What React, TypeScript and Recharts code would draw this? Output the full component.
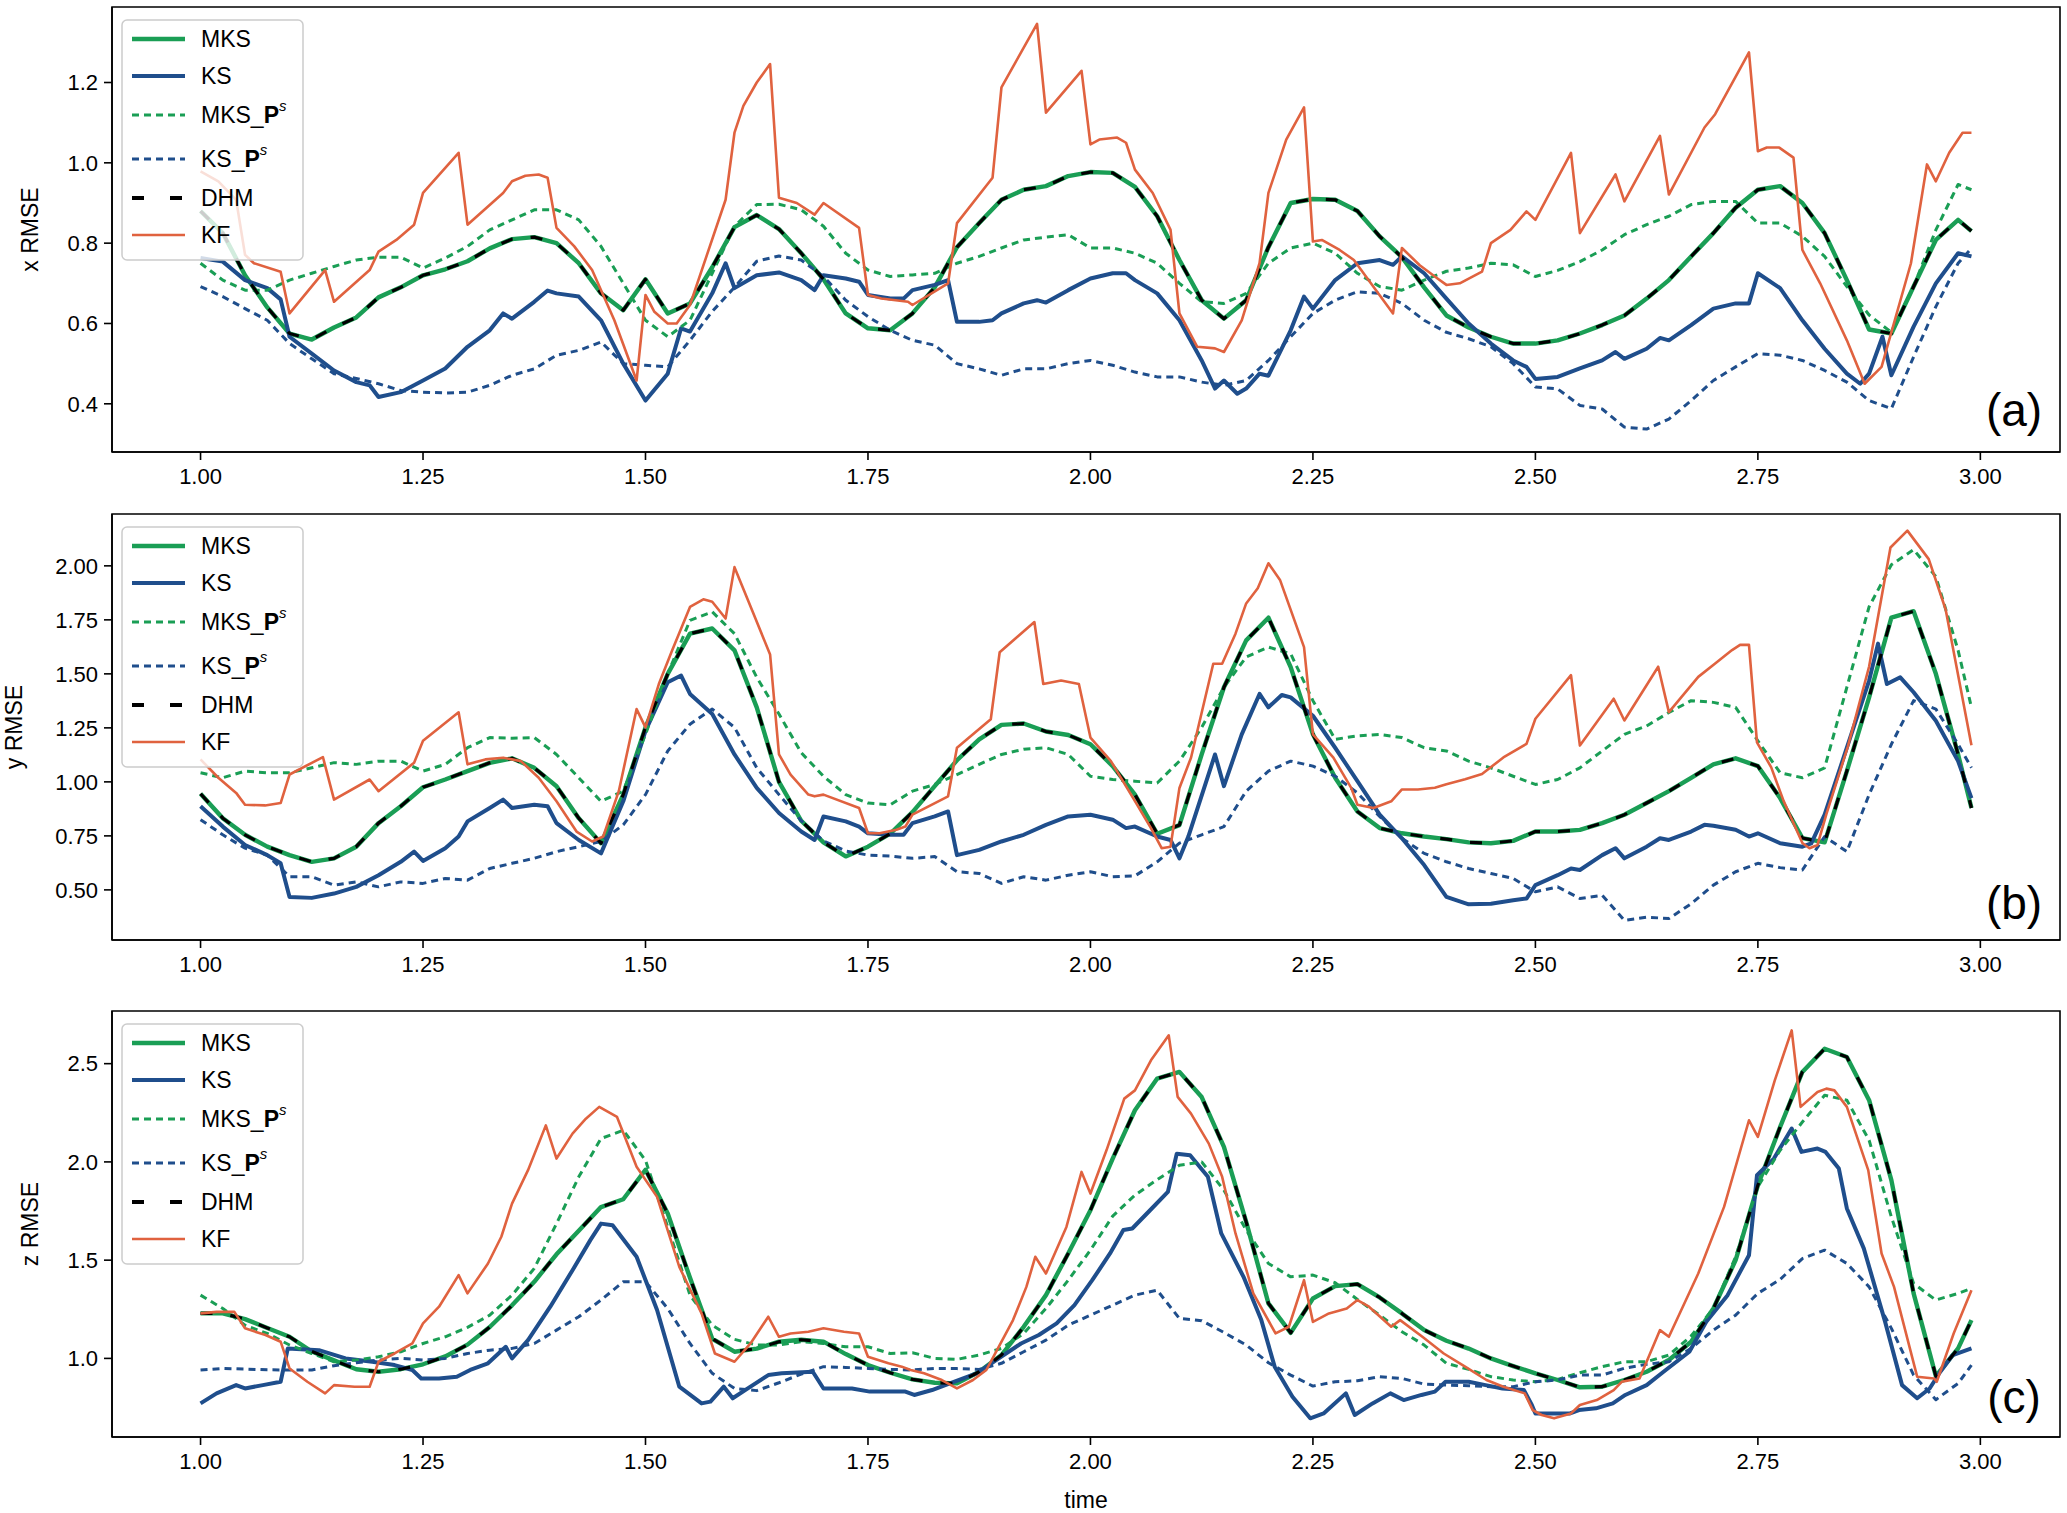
import React from 'react';
import { LineChart, Line, XAxis, YAxis, ReferenceArea } from 'recharts';

const FONT = '"Liberation Sans", Arial, sans-serif';
const GREEN = '#1a9e55';
const BLUE = '#1f4e8c';
const ORANGE = '#e0623f';
const BLACK = '#000000';

// shared time grid (smooth series)
const TIME = [
  1.0, 1.025, 1.05, 1.075, 1.1, 1.125, 1.15, 1.175, 1.2, 1.225,
  1.25, 1.275, 1.3, 1.325, 1.35, 1.375, 1.4, 1.425, 1.45, 1.475,
  1.5, 1.525, 1.55, 1.575, 1.6, 1.625, 1.65, 1.675, 1.7, 1.725,
  1.75, 1.775, 1.8, 1.825, 1.85, 1.875, 1.9, 1.925, 1.95, 1.975,
  2.0, 2.025, 2.05, 2.075, 2.1, 2.125, 2.15, 2.175, 2.2, 2.225,
  2.25, 2.275, 2.3, 2.325, 2.35, 2.375, 2.4, 2.425, 2.45, 2.475,
  2.5, 2.525, 2.55, 2.575, 2.6, 2.625, 2.65, 2.675, 2.7, 2.725,
  2.75, 2.775, 2.8, 2.825, 2.85, 2.875, 2.9, 2.925, 2.95, 2.975,
  2.99,
];

const X_TICKS = [1, 1.25, 1.5, 1.75, 2, 2.25, 2.5, 2.75, 3];
const Y_TICKS_A = [0.4, 0.6, 0.8, 1.0, 1.2];
const Y_TICKS_B = [0.5, 0.75, 1.0, 1.25, 1.5, 1.75, 2.0];
const Y_TICKS_C = [1.0, 1.5, 2.0, 2.5];

// ---------------- panel (a): x RMSE ----------------
const MKS_A = [
  0.88, 0.825, 0.72, 0.64, 0.575, 0.56, 0.59, 0.615, 0.665, 0.69,
  0.72, 0.735, 0.755, 0.787, 0.81, 0.815, 0.8, 0.75, 0.675, 0.633,
  0.71, 0.625, 0.65, 0.74, 0.84, 0.87, 0.835, 0.775, 0.71, 0.625,
  0.588, 0.583, 0.625, 0.69, 0.79, 0.85, 0.908, 0.933, 0.942, 0.967,
  0.977, 0.975, 0.94, 0.867, 0.758, 0.658, 0.612, 0.658, 0.79, 0.9,
  0.91, 0.908, 0.88, 0.817, 0.765, 0.69, 0.62, 0.59, 0.567, 0.55,
  0.55, 0.558, 0.575, 0.596, 0.62, 0.662, 0.708, 0.767, 0.825, 0.888,
  0.933, 0.942, 0.9, 0.825, 0.708, 0.585, 0.575, 0.692, 0.808, 0.858,
  0.83,
];
const DHM_A = MKS_A; // DHM lies exactly on MKS in the figure
const MKS_PS_A = [
  0.75, 0.708, 0.683, 0.683, 0.708, 0.725, 0.742, 0.758, 0.765, 0.765,
  0.738, 0.763, 0.792, 0.833, 0.858, 0.883, 0.883, 0.858, 0.792, 0.7,
  0.608, 0.567, 0.608, 0.725, 0.842, 0.896, 0.897, 0.883, 0.842, 0.775,
  0.733, 0.717, 0.721, 0.725, 0.75, 0.767, 0.788, 0.808, 0.815, 0.821,
  0.788, 0.788, 0.775, 0.75, 0.7, 0.654, 0.65, 0.675, 0.75, 0.788,
  0.8, 0.775, 0.725, 0.692, 0.683, 0.708, 0.73, 0.738, 0.75, 0.746,
  0.717, 0.732, 0.754, 0.783, 0.821, 0.846, 0.867, 0.896, 0.904, 0.904,
  0.85, 0.85, 0.817, 0.767, 0.692, 0.621, 0.578, 0.692, 0.833, 0.946,
  0.933,
];
const KS_PS_A = [
  0.692, 0.667, 0.637, 0.608, 0.55, 0.512, 0.475, 0.463, 0.45, 0.433,
  0.429, 0.427, 0.429, 0.446, 0.471, 0.487, 0.521, 0.533, 0.554, 0.5,
  0.496, 0.492, 0.558, 0.63, 0.69, 0.755, 0.768, 0.758, 0.717, 0.658,
  0.617, 0.583, 0.558, 0.546, 0.5, 0.487, 0.471, 0.487, 0.487, 0.5,
  0.508, 0.496, 0.479, 0.467, 0.467, 0.454, 0.446, 0.458, 0.508, 0.567,
  0.625, 0.658, 0.679, 0.675, 0.65, 0.608, 0.578, 0.562, 0.542, 0.5,
  0.442, 0.437, 0.396, 0.387, 0.342, 0.337, 0.362, 0.408, 0.458, 0.492,
  0.525, 0.521, 0.508, 0.483, 0.454, 0.408, 0.388, 0.517, 0.642, 0.75,
  0.787,
];
const KS_A = [
  [1.0, 0.763], [1.025, 0.754], [1.05, 0.708], [1.075, 0.688], [1.09, 0.66], [1.1, 0.567],
  [1.125, 0.525], [1.15, 0.483], [1.175, 0.454], [1.19, 0.446], [1.2, 0.417], [1.225, 0.429],
  [1.25, 0.458], [1.275, 0.488], [1.3, 0.542], [1.325, 0.583], [1.34, 0.625], [1.35, 0.612],
  [1.375, 0.654], [1.39, 0.682], [1.4, 0.675], [1.425, 0.667], [1.45, 0.608], [1.475, 0.5],
  [1.5, 0.408], [1.525, 0.475], [1.54, 0.588], [1.55, 0.58], [1.575, 0.675], [1.59, 0.75],
  [1.6, 0.688], [1.625, 0.72], [1.65, 0.727], [1.675, 0.708], [1.69, 0.683], [1.7, 0.72],
  [1.725, 0.712], [1.74, 0.704], [1.75, 0.671], [1.775, 0.662], [1.79, 0.662], [1.8, 0.683],
  [1.825, 0.696], [1.84, 0.708], [1.85, 0.604], [1.875, 0.604], [1.89, 0.608], [1.9, 0.625],
  [1.925, 0.65], [1.94, 0.658], [1.95, 0.652], [1.975, 0.683], [2.0, 0.712], [2.025, 0.725],
  [2.04, 0.725], [2.05, 0.708], [2.075, 0.675], [2.1, 0.608], [2.125, 0.508], [2.14, 0.438],
  [2.15, 0.458], [2.165, 0.425], [2.175, 0.438], [2.19, 0.475], [2.2, 0.47], [2.225, 0.583],
  [2.24, 0.667], [2.25, 0.637], [2.275, 0.708], [2.3, 0.75], [2.325, 0.758], [2.34, 0.746],
  [2.35, 0.767], [2.375, 0.725], [2.4, 0.662], [2.425, 0.6], [2.45, 0.55], [2.475, 0.508],
  [2.49, 0.492], [2.5, 0.462], [2.525, 0.467], [2.55, 0.488], [2.575, 0.508], [2.59, 0.529],
  [2.6, 0.512], [2.625, 0.537], [2.64, 0.564], [2.65, 0.558], [2.675, 0.596], [2.7, 0.637],
  [2.725, 0.65], [2.74, 0.65], [2.75, 0.725], [2.775, 0.688], [2.8, 0.608], [2.825, 0.537],
  [2.85, 0.475], [2.865, 0.45], [2.875, 0.475], [2.89, 0.567], [2.9, 0.471], [2.925, 0.592],
  [2.95, 0.7], [2.975, 0.775], [2.99, 0.767],
];
const KF_A = [
  [1.0, 0.979], [1.02, 0.954], [1.04, 0.908], [1.05, 0.771], [1.06, 0.75], [1.09, 0.729],
  [1.1, 0.625], [1.14, 0.733], [1.15, 0.654], [1.19, 0.733], [1.2, 0.779], [1.22, 0.808],
  [1.24, 0.846], [1.25, 0.925], [1.29, 1.025], [1.3, 0.846], [1.34, 0.925], [1.35, 0.954],
  [1.365, 0.968], [1.38, 0.971], [1.39, 0.963], [1.4, 0.838], [1.42, 0.792], [1.44, 0.733],
  [1.465, 0.608], [1.49, 0.458], [1.5, 0.671], [1.51, 0.629], [1.525, 0.6], [1.535, 0.6],
  [1.55, 0.646], [1.59, 0.908], [1.6, 1.075], [1.61, 1.142], [1.625, 1.2], [1.64, 1.246],
  [1.65, 0.913], [1.67, 0.9], [1.69, 0.871], [1.7, 0.9], [1.74, 0.838], [1.75, 0.671],
  [1.765, 0.662], [1.795, 0.654], [1.8, 0.646], [1.84, 0.7], [1.85, 0.85], [1.89, 0.963],
  [1.9, 1.188], [1.94, 1.346], [1.95, 1.125], [1.99, 1.229], [2.0, 1.046], [2.01, 1.058],
  [2.03, 1.063], [2.04, 1.05], [2.05, 0.983], [2.07, 0.925], [2.09, 0.833], [2.1, 0.625],
  [2.12, 0.542], [2.14, 0.538], [2.15, 0.529], [2.17, 0.608], [2.19, 0.75], [2.2, 0.925],
  [2.22, 1.058], [2.24, 1.138], [2.25, 0.804], [2.26, 0.808], [2.28, 0.783], [2.296, 0.758],
  [2.34, 0.625], [2.35, 0.788], [2.37, 0.745], [2.39, 0.712], [2.4, 0.696], [2.415, 0.7],
  [2.44, 0.729], [2.45, 0.8], [2.472, 0.833], [2.49, 0.879], [2.5, 0.858], [2.54, 1.025],
  [2.55, 0.825], [2.59, 0.971], [2.6, 0.904], [2.64, 1.067], [2.65, 0.921], [2.69, 1.088],
  [2.702, 1.121], [2.74, 1.275], [2.75, 1.029], [2.76, 1.038], [2.774, 1.038], [2.79, 1.013],
  [2.8, 0.783], [2.82, 0.7], [2.85, 0.558], [2.87, 0.45], [2.889, 0.492], [2.922, 0.75],
  [2.94, 0.996], [2.95, 0.954], [2.965, 1.025], [2.98, 1.075], [2.99, 1.075],
];

// ---------------- panel (b): y RMSE ----------------
const MKS_B = [
  0.945, 0.832, 0.755, 0.7, 0.661, 0.63, 0.646, 0.7, 0.809, 0.887,
  0.975, 1.011, 1.05, 1.088, 1.109, 1.065, 0.98, 0.832, 0.716, 0.941,
  1.252, 1.5, 1.686, 1.71, 1.609, 1.345, 1.0, 0.82, 0.72, 0.655,
  0.7, 0.76, 0.86, 0.98, 1.1, 1.197, 1.264, 1.27, 1.233, 1.217,
  1.174, 1.073, 0.941, 0.76, 0.8, 1.127, 1.438, 1.655, 1.76, 1.531,
  1.22, 1.019, 0.863, 0.786, 0.762, 0.747, 0.735, 0.72, 0.716, 0.727,
  0.77, 0.77, 0.778, 0.809, 0.848, 0.902, 0.957, 1.019, 1.081, 1.109,
  1.073, 0.925, 0.74, 0.72, 1.05, 1.391, 1.76, 1.79, 1.5, 1.127,
  0.879,
];
const DHM_B = MKS_B;
const MKS_PS_B = [
  1.042, 1.019, 1.05, 1.042, 1.042, 1.065, 1.089, 1.081, 1.096, 1.096,
  1.05, 1.081, 1.158, 1.205, 1.202, 1.205, 1.127, 1.019, 0.91, 0.957,
  1.22, 1.5, 1.748, 1.787, 1.686, 1.484, 1.314, 1.135, 1.026, 0.941,
  0.902, 0.894, 0.957, 0.988, 1.034, 1.081, 1.127, 1.151, 1.158, 1.127,
  1.026, 1.011, 1.003, 0.995, 1.096, 1.252, 1.438, 1.578, 1.624, 1.593,
  1.376, 1.197, 1.213, 1.22, 1.205, 1.158, 1.143, 1.096, 1.065, 1.026,
  0.988, 1.011, 1.065, 1.143, 1.22, 1.259, 1.321, 1.376, 1.368, 1.345,
  1.19, 1.042, 1.019, 1.065, 1.438, 1.811, 2.005, 2.075, 1.95, 1.609,
  1.345,
];
const KS_PS_B = [
  0.825, 0.755, 0.693, 0.661, 0.561, 0.561, 0.522, 0.537, 0.514, 0.537,
  0.53, 0.553, 0.545, 0.599, 0.623, 0.646, 0.677, 0.7, 0.724, 0.801,
  0.941, 1.143, 1.267, 1.337, 1.252, 1.065, 0.941, 0.82, 0.727, 0.68,
  0.661, 0.657, 0.646, 0.654, 0.584, 0.576, 0.53, 0.561, 0.545, 0.568,
  0.584, 0.561, 0.565, 0.63, 0.716, 0.755, 0.793, 0.957, 1.05, 1.096,
  1.073, 1.026, 0.949, 0.84, 0.739, 0.669, 0.63, 0.599, 0.576, 0.553,
  0.491, 0.514, 0.46, 0.475, 0.359, 0.374, 0.367, 0.436, 0.522, 0.584,
  0.623, 0.603, 0.592, 0.747, 0.677, 0.941, 1.174, 1.376, 1.337, 1.174,
  1.065,
];
const KS_B = [
  [1.0, 0.887], [1.025, 0.793], [1.05, 0.708], [1.075, 0.661], [1.09, 0.623], [1.1, 0.467],
  [1.125, 0.463], [1.15, 0.483], [1.175, 0.514], [1.2, 0.568], [1.225, 0.63], [1.24, 0.677],
  [1.25, 0.634], [1.275, 0.693], [1.29, 0.747], [1.3, 0.817], [1.325, 0.879], [1.34, 0.918],
  [1.35, 0.879], [1.375, 0.894], [1.39, 0.887], [1.4, 0.809], [1.425, 0.731], [1.45, 0.669],
  [1.475, 0.91], [1.5, 1.236], [1.525, 1.461], [1.54, 1.492], [1.55, 1.407], [1.575, 1.314],
  [1.6, 1.127], [1.625, 0.972], [1.65, 0.856], [1.675, 0.77], [1.69, 0.731], [1.7, 0.84],
  [1.725, 0.817], [1.74, 0.793], [1.75, 0.762], [1.775, 0.755], [1.79, 0.755], [1.8, 0.809],
  [1.825, 0.84], [1.84, 0.863], [1.85, 0.661], [1.875, 0.685], [1.9, 0.724], [1.925, 0.755],
  [1.95, 0.801], [1.975, 0.84], [2.0, 0.848], [2.025, 0.825], [2.04, 0.786], [2.05, 0.793],
  [2.075, 0.747], [2.09, 0.731], [2.1, 0.646], [2.11, 0.747], [2.14, 1.127], [2.15, 0.98],
  [2.17, 1.22], [2.19, 1.407], [2.2, 1.345], [2.215, 1.402], [2.225, 1.391], [2.25, 1.306],
  [2.275, 1.158], [2.3, 1.003], [2.325, 0.848], [2.35, 0.739], [2.375, 0.615], [2.4, 0.468],
  [2.425, 0.433], [2.45, 0.436], [2.475, 0.452], [2.49, 0.46], [2.5, 0.522], [2.525, 0.568],
  [2.54, 0.599], [2.55, 0.592], [2.575, 0.661], [2.59, 0.693], [2.6, 0.646], [2.625, 0.7],
  [2.64, 0.739], [2.65, 0.731], [2.675, 0.77], [2.69, 0.801], [2.7, 0.797], [2.725, 0.778],
  [2.74, 0.747], [2.75, 0.762], [2.775, 0.716], [2.8, 0.7], [2.81, 0.715], [2.825, 0.848],
  [2.85, 1.158], [2.875, 1.469], [2.885, 1.64], [2.895, 1.453], [2.91, 1.484], [2.925, 1.415],
  [2.95, 1.283], [2.975, 1.096], [2.99, 0.925],
];
const KF_B = [
  [1.0, 1.104], [1.02, 1.019], [1.04, 0.949], [1.05, 0.894], [1.0725, 0.891], [1.09, 0.902],
  [1.1, 1.034], [1.1375, 1.115], [1.15, 0.918], [1.19, 1.011], [1.2, 0.957], [1.24, 1.089],
  [1.25, 1.19], [1.29, 1.322], [1.3, 1.081], [1.32, 1.104], [1.34, 1.112], [1.36, 1.096],
  [1.38, 1.019], [1.4, 0.91], [1.4225, 0.77], [1.44, 0.724], [1.4525, 0.747], [1.47, 0.957],
  [1.49, 1.337], [1.5, 1.252], [1.515, 1.453], [1.53, 1.609], [1.55, 1.81], [1.565, 1.845],
  [1.575, 1.834], [1.59, 1.756], [1.6, 1.994], [1.62, 1.792], [1.64, 1.59], [1.65, 1.127],
  [1.663, 1.034], [1.683, 0.941], [1.69, 0.933], [1.7, 0.941], [1.74, 0.879], [1.75, 0.762],
  [1.763, 0.762], [1.782, 0.778], [1.792, 0.793], [1.8, 0.848], [1.84, 0.933], [1.85, 1.158],
  [1.888, 1.29], [1.898, 1.6], [1.937, 1.74], [1.947, 1.453], [1.967, 1.469], [1.987, 1.453],
  [2.0, 1.205], [2.023, 1.096], [2.048, 0.925], [2.068, 0.786], [2.08, 0.693], [2.09, 0.7],
  [2.1, 0.972], [2.113, 1.112], [2.138, 1.547], [2.148, 1.547], [2.163, 1.686], [2.175, 1.826],
  [2.188, 1.896], [2.2, 2.012], [2.213, 1.935], [2.24, 1.624], [2.25, 1.22], [2.273, 1.112],
  [2.293, 0.972], [2.3, 0.894], [2.318, 0.879], [2.338, 0.91], [2.35, 0.965], [2.368, 0.965],
  [2.387, 0.973], [2.4, 0.989], [2.421, 1.012], [2.44, 1.036], [2.464, 1.113], [2.49, 1.176],
  [2.5, 1.292], [2.54, 1.494], [2.55, 1.168], [2.588, 1.385], [2.6, 1.284], [2.638, 1.533],
  [2.65, 1.323], [2.683, 1.486], [2.702, 1.548], [2.721, 1.61], [2.73, 1.634], [2.74, 1.634],
  [2.749, 1.183], [2.765, 1.067], [2.779, 0.911], [2.8, 0.717], [2.808, 0.693], [2.817, 0.708],
  [2.827, 0.851], [2.851, 1.162], [2.875, 1.534], [2.899, 2.085], [2.918, 2.163], [2.942, 2.031],
  [2.961, 1.798], [2.99, 1.169],
];

// ---------------- panel (c): z RMSE ----------------
const MKS_C = [
  1.229, 1.229, 1.2, 1.155, 1.11, 1.035, 0.99, 0.945, 0.932, 0.945,
  0.97, 1.01, 1.07, 1.16, 1.27, 1.39, 1.53, 1.65, 1.77, 1.81,
  1.96, 1.737, 1.41, 1.1, 1.034, 1.05, 1.085, 1.095, 1.085, 1.022,
  0.966, 0.927, 0.893, 0.876, 0.873, 0.932, 1.017, 1.161, 1.322, 1.534,
  1.754, 2.017, 2.263, 2.424, 2.458, 2.33, 2.076, 1.695, 1.28, 1.13,
  1.305, 1.368, 1.378, 1.31, 1.229, 1.144, 1.09, 1.05, 1.0, 0.961,
  0.924, 0.89, 0.853, 0.856, 0.89, 0.932, 0.992, 1.085, 1.254, 1.5,
  1.881, 2.178, 2.458, 2.576, 2.534, 2.314, 1.907, 1.331, 0.91, 1.051,
  1.195,
];
const DHM_C = MKS_C;
const MKS_PS_C = [
  1.322, 1.254, 1.169, 1.127, 1.068, 1.025, 0.983, 0.992, 1.008, 1.034,
  1.076, 1.11, 1.158, 1.22, 1.322, 1.458, 1.686, 1.924, 2.119, 2.161,
  2.008, 1.669, 1.322, 1.169, 1.097, 1.068, 1.068, 1.085, 1.076, 1.059,
  1.059, 1.025, 1.029, 1.0, 0.995, 1.017, 1.051, 1.127, 1.254, 1.398,
  1.551, 1.724, 1.831, 1.91, 1.983, 2.0, 1.856, 1.653, 1.483, 1.415,
  1.424, 1.385, 1.3, 1.22, 1.136, 1.068, 0.975, 0.944, 0.907, 0.89,
  0.881, 0.893, 0.927, 0.958, 0.983, 0.983, 1.017, 1.114, 1.254, 1.517,
  1.873, 2.059, 2.203, 2.339, 2.314, 2.11, 1.72, 1.381, 1.297, 1.331,
  1.356,
];
const KS_PS_C = [
  0.941, 0.949, 0.946, 0.942, 0.941, 0.941, 0.963, 0.978, 0.992, 1.0,
  0.992, 1.0, 1.025, 1.042, 1.051, 1.076, 1.144, 1.212, 1.297, 1.39,
  1.39, 1.254, 1.076, 0.924, 0.847, 0.836, 0.876, 0.92, 0.958, 0.954,
  0.949, 0.944, 0.941, 0.949, 0.948, 0.944, 0.975, 1.034, 1.093, 1.169,
  1.22, 1.271, 1.322, 1.347, 1.203, 1.192, 1.132, 1.068, 0.978, 0.915,
  0.859, 0.881, 0.886, 0.907, 0.898, 0.869, 0.864, 0.861, 0.856, 0.856,
  0.881, 0.89, 0.915, 0.915, 0.95, 0.97, 0.983, 1.051, 1.144, 1.22,
  1.331, 1.402, 1.508, 1.551, 1.483, 1.364, 1.153, 0.915, 0.79, 0.873,
  0.966,
];
const KS_C = [
  [1.0, 0.771], [1.018, 0.822], [1.04, 0.864], [1.05, 0.847], [1.07, 0.864], [1.09, 0.881],
  [1.098, 1.05], [1.133, 1.042], [1.163, 1.0], [1.193, 0.983], [1.218, 0.966], [1.238, 0.941],
  [1.248, 0.898], [1.268, 0.898], [1.288, 0.907], [1.303, 0.941], [1.323, 0.975], [1.343, 1.059],
  [1.35, 1.0], [1.368, 1.093], [1.393, 1.263], [1.418, 1.449], [1.438, 1.602], [1.45, 1.686],
  [1.463, 1.678], [1.49, 1.517], [1.513, 1.246], [1.538, 0.856], [1.563, 0.771], [1.573, 0.78],
  [1.588, 0.856], [1.598, 0.797], [1.618, 0.856], [1.638, 0.915], [1.653, 0.924], [1.688, 0.932],
  [1.7, 0.847], [1.732, 0.847], [1.752, 0.831], [1.792, 0.831], [1.802, 0.814], [1.822, 0.839],
  [1.842, 0.873], [1.872, 0.924], [1.897, 1.0], [1.922, 1.076], [1.942, 1.119], [1.962, 1.178],
  [1.982, 1.271], [2.002, 1.398], [2.022, 1.534], [2.037, 1.653], [2.047, 1.661], [2.067, 1.754],
  [2.087, 1.847], [2.097, 2.042], [2.112, 2.034], [2.132, 1.924], [2.147, 1.636], [2.172, 1.415],
  [2.192, 1.195], [2.207, 0.958], [2.227, 0.805], [2.247, 0.695], [2.262, 0.72], [2.287, 0.822],
  [2.297, 0.712], [2.317, 0.771], [2.337, 0.822], [2.352, 0.788], [2.372, 0.814], [2.387, 0.831],
  [2.399, 0.881], [2.425, 0.881], [2.444, 0.864], [2.463, 0.847], [2.487, 0.839], [2.496, 0.763],
  [2.5, 0.72], [2.539, 0.72], [2.549, 0.737], [2.568, 0.746], [2.587, 0.771], [2.601, 0.814],
  [2.625, 0.864], [2.644, 0.932], [2.673, 1.034], [2.692, 1.186], [2.716, 1.322], [2.74, 1.525],
  [2.749, 1.932], [2.768, 2.017], [2.788, 2.17], [2.799, 2.051], [2.817, 2.068], [2.826, 2.051],
  [2.841, 1.966], [2.85, 1.763], [2.869, 1.56], [2.893, 1.186], [2.912, 0.864], [2.929, 0.797],
  [2.943, 0.847], [2.955, 0.932], [2.969, 1.017], [2.99, 1.051],
];
const KF_C = [
  [1.0, 1.229], [1.018, 1.237], [1.038, 1.237], [1.05, 1.153], [1.073, 1.119], [1.09, 1.085],
  [1.1, 0.949], [1.12, 0.881], [1.14, 0.822], [1.15, 0.864], [1.173, 0.856], [1.19, 0.856],
  [1.2, 0.983], [1.218, 1.025], [1.238, 1.076], [1.25, 1.178], [1.268, 1.263], [1.29, 1.424],
  [1.3, 1.331], [1.323, 1.483], [1.338, 1.619], [1.35, 1.788], [1.368, 1.958], [1.388, 2.186],
  [1.4, 2.017], [1.418, 2.144], [1.433, 2.22], [1.448, 2.28], [1.468, 2.229], [1.49, 1.975],
  [1.513, 1.822], [1.538, 1.466], [1.563, 1.229], [1.578, 1.025], [1.6, 0.983], [1.618, 1.076],
  [1.638, 1.212], [1.65, 1.11], [1.663, 1.127], [1.683, 1.136], [1.7, 1.153], [1.723, 1.136],
  [1.74, 1.127], [1.75, 1.008], [1.773, 0.975], [1.788, 0.958], [1.798, 0.941], [1.813, 0.924],
  [1.833, 0.89], [1.85, 0.847], [1.868, 0.89], [1.883, 0.941], [1.893, 1.025], [1.913, 1.195],
  [1.928, 1.364], [1.938, 1.517], [1.95, 1.432], [1.973, 1.669], [1.99, 1.949], [2.0, 1.839],
  [2.018, 2.059], [2.038, 2.322], [2.05, 2.364], [2.068, 2.517], [2.088, 2.644], [2.098, 2.331],
  [2.113, 2.246], [2.133, 2.093], [2.148, 1.924], [2.163, 1.636], [2.183, 1.331], [2.208, 1.127],
  [2.223, 1.161], [2.24, 1.398], [2.25, 1.186], [2.268, 1.229], [2.288, 1.254], [2.3, 1.297],
  [2.313, 1.263], [2.338, 1.161], [2.348, 1.195], [2.373, 1.11], [2.397, 1.025], [2.421, 0.958],
  [2.445, 0.89], [2.464, 0.856], [2.488, 0.822], [2.497, 0.737], [2.507, 0.712], [2.521, 0.695],
  [2.54, 0.72], [2.55, 0.763], [2.569, 0.788], [2.588, 0.839], [2.597, 0.881], [2.617, 0.898],
  [2.64, 1.144], [2.65, 1.11], [2.683, 1.432], [2.712, 1.771], [2.74, 2.212], [2.75, 2.127],
  [2.769, 2.415], [2.788, 2.669], [2.798, 2.28], [2.817, 2.356], [2.827, 2.373], [2.836, 2.364],
  [2.85, 2.28], [2.874, 1.958], [2.889, 1.534], [2.903, 1.364], [2.929, 0.907], [2.948, 0.898],
  [2.951, 0.881], [2.97, 1.127], [2.99, 1.347],
];

// ---------------- helpers ----------------
type Pt = { t: number; v: number };
const onGrid = (vals: number[]): Pt[] => TIME.map((t, i) => ({ t, v: vals[i] }));
const fromPairs = (pairs: number[][]): Pt[] => pairs.map(([t, v]) => ({ t, v }));

const X_DOMAIN: [number, number] = [0.9005, 3.0895];
const WIDTH = 2067;

type SeriesStyle = { name: string; color: string; width: number; dash?: string };
const STYLE_MKS: SeriesStyle = { name: 'MKS', color: GREEN, width: 4.4 };
const STYLE_KS: SeriesStyle = { name: 'KS', color: BLUE, width: 4 };
const STYLE_MKS_PS: SeriesStyle = { name: 'MKS_Ps', color: GREEN, width: 3, dash: '7 5' };
const STYLE_KS_PS: SeriesStyle = { name: 'KS_Ps', color: BLUE, width: 3, dash: '7 5' };
const STYLE_DHM: SeriesStyle = { name: 'DHM', color: BLACK, width: 3.2, dash: '12 18' };
const STYLE_KF: SeriesStyle = { name: 'KF', color: ORANGE, width: 2.6 };
const LEGEND_STYLES = [STYLE_MKS, STYLE_KS, STYLE_MKS_PS, STYLE_KS_PS, STYLE_DHM, STYLE_KF];
const LEGEND_ROWS = [20, 57, 96, 140, 179, 216];

function LegendBox() {
  return (
    <svg width={184} height={243} style={{ position: 'absolute', left: 0, top: 0, overflow: 'visible' }}>
      <rect x={1} y={1} width={181} height={240} rx={5} ry={5} fill="rgba(255,255,255,0.8)" stroke="#cccccc" strokeWidth={1.5} />
      {LEGEND_STYLES.map((s, i) => {
        const y = LEGEND_ROWS[i];
        const isPs = s.name.endsWith('_Ps');
        const base = isPs ? s.name.replace('_Ps', '_') : s.name;
        return (
          <g key={s.name}>
            <line
              x1={11}
              x2={64}
              y1={y}
              y2={y}
              stroke={s.color}
              strokeWidth={s.name === 'DHM' ? 4 : s.width}
              strokeDasharray={s.name === 'DHM' ? '12 26' : s.dash}
            />
            <text x={80} y={y} dominantBaseline="central" fontSize={23} fontFamily={FONT} fill="#000">
              {base}
              {isPs && <tspan fontWeight="bold">P</tspan>}
              {isPs && (
                <tspan fontStyle="italic" fontSize={15} dy={-10}>
                  s
                </tspan>
              )}
            </text>
          </g>
        );
      })}
    </svg>
  );
}

type PanelCfg = {
  top: number;
  height: number;
  marginTop: number;
  xAxisHeight: number;
  yDomain: [number, number];
  yTicks: number[];
  yDigits: number;
  yLabel: string;
  yLabelOffset: number;
  tag: string;
  tagY: number;
  showTime: boolean;
  mks: number[];
  ks: number[][];
  mksPs: number[];
  ksPs: number[];
  dhm: number[];
  kf: number[][];
};

const PANELS: PanelCfg[] = [
  {
    top: 0, height: 500, marginTop: 7, xAxisHeight: 48,
    yDomain: [0.28, 1.388], yTicks: Y_TICKS_A, yDigits: 1, yLabel: 'x RMSE', yLabelOffset: 18,
    tag: '(a)', tagY: 410, showTime: false,
    mks: MKS_A, ks: KS_A, mksPs: MKS_PS_A, ksPs: KS_PS_A, dhm: DHM_A, kf: KF_A,
  },
  {
    top: 500, height: 488, marginTop: 14, xAxisHeight: 48,
    yDomain: [0.268, 2.24], yTicks: Y_TICKS_B, yDigits: 2, yLabel: 'y RMSE', yLabelOffset: 2,
    tag: '(b)', tagY: 403, showTime: false,
    mks: MKS_B, ks: KS_B, mksPs: MKS_PS_B, ksPs: KS_PS_B, dhm: DHM_B, kf: KF_B,
  },
  {
    top: 988, height: 525, marginTop: 23, xAxisHeight: 76,
    yDomain: [0.6, 2.768], yTicks: Y_TICKS_C, yDigits: 1, yLabel: 'z RMSE', yLabelOffset: 18,
    tag: '(c)', tagY: 409, showTime: true,
    mks: MKS_C, ks: KS_C, mksPs: MKS_PS_C, ksPs: KS_PS_C, dhm: DHM_C, kf: KF_C,
  },
];

const tickStyle = { fontSize: 22, fill: '#000', fontFamily: FONT };
const axisStroke = { stroke: '#000', strokeWidth: 1.6 };

function Panel({ cfg }: { cfg: PanelCfg }) {
  const series: { style: SeriesStyle; data: Pt[] }[] = [
    { style: STYLE_MKS, data: onGrid(cfg.mks) },
    { style: STYLE_KS, data: fromPairs(cfg.ks) },
    { style: STYLE_MKS_PS, data: onGrid(cfg.mksPs) },
    { style: STYLE_KS_PS, data: onGrid(cfg.ksPs) },
    { style: STYLE_DHM, data: onGrid(cfg.dhm) },
    { style: STYLE_KF, data: fromPairs(cfg.kf) },
  ];
  return (
    <div style={{ position: 'absolute', left: 0, top: cfg.top, width: WIDTH, height: cfg.height }}>
      <LineChart width={WIDTH} height={cfg.height} margin={{ top: cfg.marginTop, right: 7, bottom: 0, left: 12 }}>
        <XAxis
          type="number"
          dataKey="t"
          domain={X_DOMAIN}
          allowDataOverflow
          ticks={X_TICKS}
          interval={0}
          tickFormatter={(v: number) => v.toFixed(2)}
          height={cfg.xAxisHeight}
          tickSize={8}
          tickMargin={8}
          tick={tickStyle}
          axisLine={axisStroke}
          tickLine={axisStroke}
          label={
            cfg.showTime
              ? { value: 'time', position: 'insideBottom', offset: 5, style: { fontSize: 23, fill: '#000', fontFamily: FONT } }
              : undefined
          }
        />
        <YAxis
          type="number"
          domain={cfg.yDomain}
          allowDataOverflow
          ticks={cfg.yTicks}
          interval={0}
          tickFormatter={(v: number) => v.toFixed(cfg.yDigits)}
          width={100}
          tickSize={8}
          tickMargin={6}
          tick={tickStyle}
          axisLine={axisStroke}
          tickLine={axisStroke}
          label={{
            value: cfg.yLabel,
            angle: -90,
            position: 'insideLeft',
            offset: cfg.yLabelOffset,
            style: { textAnchor: 'middle', fontSize: 23, fill: '#000', fontFamily: FONT },
          }}
        />
        <ReferenceArea
          x1={X_DOMAIN[0]}
          x2={X_DOMAIN[1]}
          y1={cfg.yDomain[0]}
          y2={cfg.yDomain[1]}
          fill="none"
          fillOpacity={0}
          stroke="#000"
          strokeWidth={1.6}
          ifOverflow="visible"
        />
        {series.map((s) => (
          <Line
            key={s.style.name}
            data={s.data}
            dataKey="v"
            type="linear"
            stroke={s.style.color}
            strokeWidth={s.style.width}
            strokeDasharray={s.style.dash}
            strokeLinejoin="round"
            dot={false}
            activeDot={false}
            isAnimationActive={false}
            legendType="none"
          />
        ))}
      </LineChart>
      <div style={{ position: 'absolute', left: 121, top: cfg.marginTop + 12, width: 184, height: 243 }}>
        <LegendBox />
      </div>
      <div
        style={{
          position: 'absolute',
          left: 2014,
          top: cfg.tagY,
          transform: 'translate(-50%, -50%)',
          fontSize: 46,
          fontFamily: FONT,
          lineHeight: 1,
          color: '#000',
        }}
      >
        {cfg.tag}
      </div>
    </div>
  );
}

export default function App() {
  return (
    <div
      style={{
        position: 'absolute',
        left: 0,
        top: 0,
        width: WIDTH,
        height: 1513,
        background: '#fff',
        fontFamily: FONT,
        overflow: 'hidden',
      }}
    >
      {PANELS.map((p) => (
        <Panel key={p.tag} cfg={p} />
      ))}
    </div>
  );
}
